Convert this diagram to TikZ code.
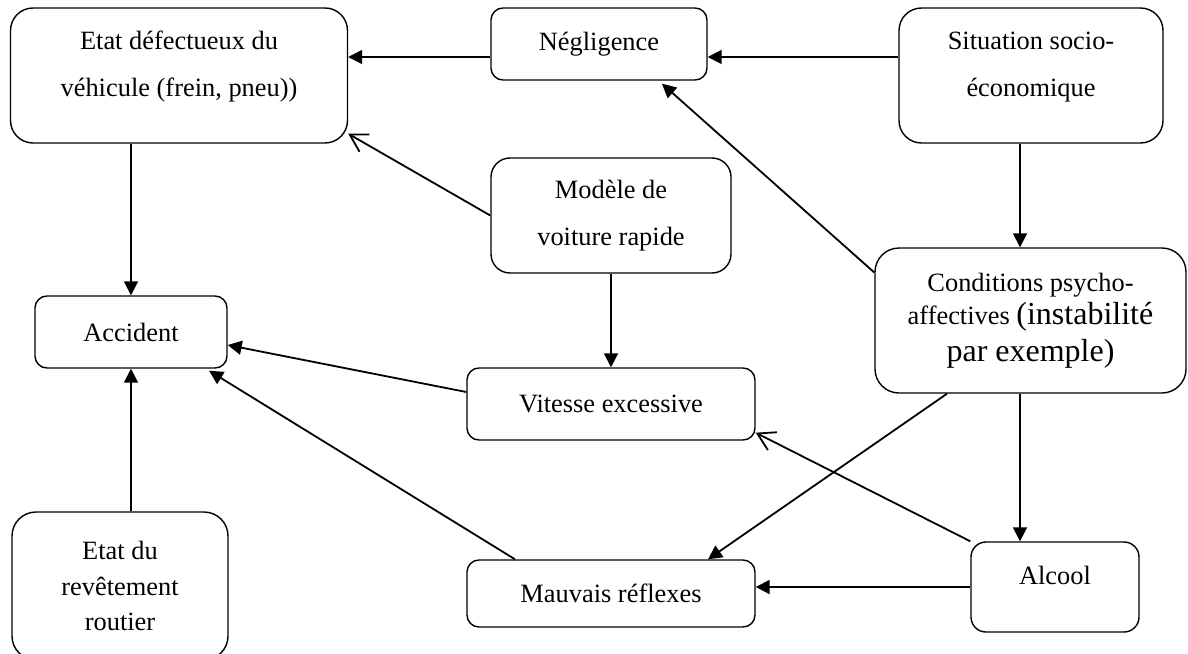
\documentclass[tikz,border=0pt]{standalone}
\usepackage{fontspec}
\setmainfont{Liberation Serif}
\usetikzlibrary{arrows.meta}

\begin{document}
\begin{tikzpicture}[x=0.5pt,y=-0.5pt,
  boite/.style={draw,line width=0.7pt,rounded corners=#1,align=center,inner sep=0pt,font=\fontsize{13.2}{23.5}\selectfont},
  fleche/.style={line width=0.9pt,-{Triangle[length=7pt,width=7pt]}},
  flecheouverte/.style={line width=0.9pt,-{Straight Barb[length=8.5pt,width=10pt]}}]
\useasboundingbox (0,0) rectangle (1188,653);
% boites
\node[boite=11.25pt,minimum width=168.5pt,minimum height=67.5pt,text depth=11.5pt] (etat) at (179,75.5) {Etat défectueux du\\véhicule (frein, pneu))};
\node[boite=6pt,minimum width=108pt,minimum height=36pt] (neg) at (599,44) {Négligence};
\node[boite=11.25pt,minimum width=132pt,minimum height=67.5pt,text depth=11.5pt] (situ) at (1031,75.5) {Situation socio-\\économique};
\node[boite=9.5pt,minimum width=120pt,minimum height=57.5pt] (modele) at (611,215.5) {Modèle de\\voiture rapide};
\node[boite=12pt,minimum width=155.5pt,minimum height=72.5pt,font=\fontsize{13.2}{16.5}\selectfont] (cond) at (1030.5,320.5)
  {Conditions psycho-\\affectives {\fontsize{16}{18}\selectfont (instabilité}\\[2pt]{\fontsize{16}{18}\selectfont par exemple)}};
\node[boite=6pt,minimum width=96pt,minimum height=36pt] (accident) at (131,332) {Accident};
\node[boite=6pt,minimum width=144pt,minimum height=36pt] (vitesse) at (611,404) {Vitesse excessive};
\node[boite=7.5pt,minimum width=84pt,minimum height=45pt,text depth=12pt] (alcool) at (1055,587) {Alcool};
\node[boite=12pt,minimum width=108pt,minimum height=74pt,font=\fontsize{13.2}{17.75}\selectfont] (revet) at (120,586) {Etat du\\revêtement\\routier};
\node[boite=6pt,minimum width=144pt,minimum height=33.5pt] (mauvais) at (611,593.5) {Mauvais réflexes};
% fleches
\coordinate (n1) at ([yshift=-6.5pt]neg.west);
\coordinate (s1) at ([xshift=-5.5pt]situ.south);
\draw[fleche] (n1) -- (n1 -| etat.east);
\draw[fleche] (situ.west |- n1) -- (neg.east |- n1);
\draw[fleche] (etat.south -| accident.north) -- (accident.north);
\draw[fleche] (revet.north -| accident.south) -- (accident.south);
\draw[flecheouverte] (modele.west) -- ([yshift=5pt]etat.south east);
\draw[fleche] (modele) -- (vitesse);
\draw[fleche] (s1) -- (s1 |- cond.north);
\draw[fleche] (s1 |- cond.south) -- (s1 |- alcool.north);
\draw[fleche] ([yshift=24pt]cond.west) -- ([xshift=31.5pt,yshift=-1.5pt]neg.south);
\draw[fleche] ([yshift=6pt]vitesse.west) -- ([yshift=-6.5pt]accident.east);
\draw[fleche] ([xshift=-48pt]mauvais.north) -- ([xshift=39pt,yshift=-1pt]accident.south);
\draw[fleche] ([xshift=-41.75pt]cond.south) -- ([xshift=48.5pt]mauvais.north);
\draw[flecheouverte] (alcool.north west) -- ([yshift=4pt]vitesse.south east);
\draw[fleche] (alcool.west) -- (alcool.west -| mauvais.east);
\end{tikzpicture}
\end{document}
